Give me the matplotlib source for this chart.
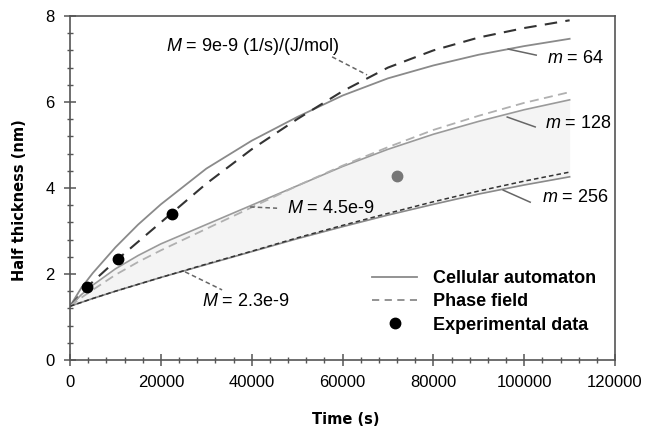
import numpy as np
import matplotlib
matplotlib.use('Agg')
import matplotlib.pyplot as plt
from matplotlib.lines import Line2D
from matplotlib.ticker import MultipleLocator

plt.rcParams['font.family'] = ['Liberation Sans', 'DejaVu Sans']
plt.rcParams['mathtext.fontset'] = 'custom'
plt.rcParams['mathtext.it'] = 'Liberation Sans:italic'
plt.rcParams['mathtext.rm'] = 'Liberation Sans'

# time (s)
t = [0, 2500, 5000, 10000, 15000, 20000, 30000, 40000, 50000, 60000, 70000, 80000, 90000, 100000, 110000]

# M = 9e-9, m = 64
ca_64 = [1.25, 1.68, 2.02, 2.62, 3.15, 3.62, 4.45, 5.1, 5.65, 6.15, 6.55, 6.85, 7.1, 7.3, 7.47]
pf_64 = [1.25, 1.55, 1.82, 2.3, 2.75, 3.2, 4.1, 4.9, 5.6, 6.25, 6.8, 7.2, 7.5, 7.72, 7.9]
# M = 4.5e-9, m = 128
ca_128 = [1.25, 1.52, 1.74, 2.12, 2.43, 2.7, 3.15, 3.6, 4.05, 4.5, 4.9, 5.25, 5.55, 5.82, 6.05]
pf_128 = [1.25, 1.45, 1.63, 1.98, 2.28, 2.55, 3.05, 3.55, 4.05, 4.52, 4.95, 5.35, 5.68, 5.98, 6.23]
# M = 2.3e-9, m = 256
ca_256 = [1.25, 1.34, 1.43, 1.6, 1.76, 1.92, 2.22, 2.52, 2.82, 3.1, 3.37, 3.62, 3.86, 4.07, 4.26]
pf_256 = [1.25, 1.34, 1.43, 1.6, 1.76, 1.92, 2.23, 2.53, 2.84, 3.13, 3.41, 3.68, 3.93, 4.16, 4.37]

# experimental points
exp_t = [3700, 10600, 22500]
exp_h = [1.70, 2.35, 3.40]
exp2_t = [72000]
exp2_h = [4.28]

fig = plt.figure(figsize=(6.55, 4.30), dpi=100)
ax = fig.add_axes([0.1069, 0.1628, 0.8321, 0.8])

ax.fill_between(t, ca_256, ca_128, color='#f4f4f4', lw=0, zorder=0)

ax.plot(t, ca_64, color='#8a8a8a', lw=1.3)
ax.plot(t, pf_64, color='#333333', lw=1.5, dashes=(6, 4))
ax.plot(t, ca_128, color='#9a9a9a', lw=1.2)
ax.plot(t, pf_128, color='#b0b0b0', lw=1.3, dashes=(5, 3))
ax.plot(t, ca_256, color='#8a8a8a', lw=1.2)
ax.plot(t, pf_256, color='#333333', lw=1.1, dashes=(3, 2))

ax.plot(exp_t, exp_h, 'o', color='black', ms=7.5)
ax.plot(exp2_t, exp2_h, 'o', color='#777777', ms=7.5)

# labels with pointers
lbl = dict(fontsize=13)
ax.text(40300, 7.28, '$M$ = 9e-9 (1/s)/(J/mol)', ha='center', va='center', **lbl)
ax.plot([57700, 65400], [7.05, 6.63], color='#666666', lw=1.1, dashes=(3, 2))
ax.text(47800, 3.53, '$M$ = 4.5e-9', ha='left', va='center', **lbl)
ax.plot([39650, 45590], [3.56, 3.53], color='#666666', lw=1.1, dashes=(3, 2))
ax.text(29070, 1.35, '$M$ = 2.3e-9', ha='left', va='center', **lbl)
ax.plot([25330, 33480], [2.05, 1.63], color='#666666', lw=1.1, dashes=(3, 2))

ax.text(105000, 7.02, '$m$ = 64', ha='left', va='center', **lbl)
ax.plot([96480, 102640], [7.23, 7.09], color='#666666', lw=1.1)
ax.text(104600, 5.51, '$m$ = 128', ha='left', va='center', **lbl)
ax.plot([96260, 102420], [5.65, 5.42], color='#666666', lw=1.1)
ax.text(103900, 3.77, '$m$ = 256', ha='left', va='center', **lbl)
ax.plot([95370, 101320], [3.95, 3.67], color='#666666', lw=1.1)

ax.set_xlim(0, 120000)
ax.set_ylim(0, 8)
ax.xaxis.set_major_locator(MultipleLocator(20000))
ax.xaxis.set_minor_locator(MultipleLocator(4000))
ax.yaxis.set_major_locator(MultipleLocator(2))
ax.yaxis.set_minor_locator(MultipleLocator(0.4))
for s in ax.spines.values():
    s.set_color('#555555')
    s.set_linewidth(1.2)
ax.tick_params(which='major', direction='inout', length=8, width=1.1, color='#555555', pad=7)
ax.tick_params(which='minor', direction='inout', length=4, width=1.0, color='#555555')
for lab in ax.get_xticklabels() + ax.get_yticklabels():
    lab.set_fontsize(12)

ax.set_xlabel('Time (s)', fontsize=10.5, fontweight='bold', family='DejaVu Sans')
ax.set_ylabel('Half thickness (nm)', fontsize=10.5, fontweight='bold', family='DejaVu Sans')
ax.xaxis.set_label_coords(0.506, -0.151)
ax.yaxis.set_label_coords(-0.079, 0.465)

handles = [Line2D([], [], color='#8a8a8a', lw=1.3),
           Line2D([], [], color='#8a8a8a', lw=1.3, dashes=(4, 3)),
           Line2D([], [], ls='none', marker='o', color='black', ms=7.5)]
ax.legend(handles, ['Cellular automaton', 'Phase field', 'Experimental data'],
          loc='upper left', bbox_to_anchor=(0.554, 0.262), frameon=False,
          borderpad=0, borderaxespad=0, handlelength=2.5, handletextpad=0.9,
          labelspacing=0.35, prop={'weight': 'bold', 'size': 13})

fig.savefig('out.png', dpi=100)
